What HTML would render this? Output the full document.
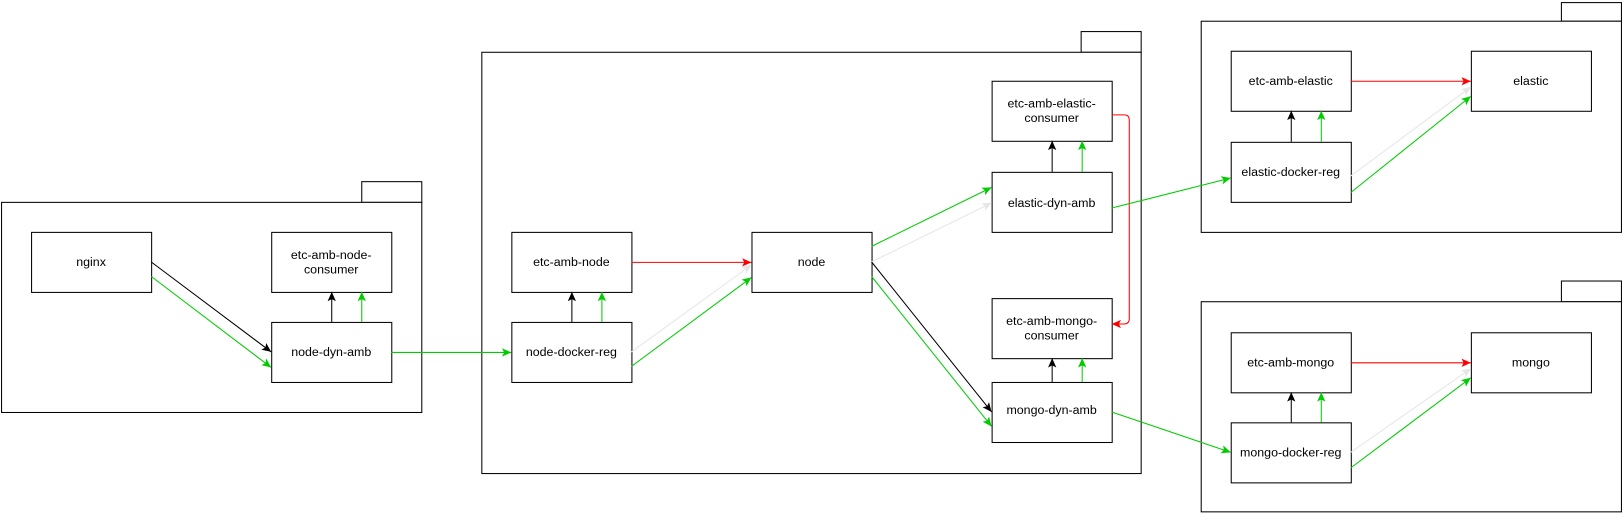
<!DOCTYPE html>
<html><head><meta charset="utf-8"><style>
html,body{margin:0;padding:0;background:#fff;}
svg text{font-family:"Liberation Sans",sans-serif;font-size:12px;fill:#000;text-anchor:middle;}
</style></head><body>
<svg width="1623" height="516" viewBox="0 0 1568 498.5" xmlns="http://www.w3.org/2000/svg">
<defs>
<marker id="ak" markerWidth="10" markerHeight="10" refX="9" refY="5" orient="auto" markerUnits="userSpaceOnUse"><path d="M0,1 L9,5 L0,9 L2,5 Z" fill="#000"/></marker>
<marker id="ag" markerWidth="10" markerHeight="10" refX="9" refY="5" orient="auto" markerUnits="userSpaceOnUse"><path d="M0,1 L9,5 L0,9 L2,5 Z" fill="#00cc00"/></marker>
<marker id="ar" markerWidth="10" markerHeight="10" refX="9" refY="5" orient="auto" markerUnits="userSpaceOnUse"><path d="M0,1 L9,5 L0,9 L2,5 Z" fill="#ff0000"/></marker>
<marker id="ay" markerWidth="10" markerHeight="10" refX="9" refY="5" orient="auto" markerUnits="userSpaceOnUse"><path d="M0,1 L9,5 L0,9 L2,5 Z" fill="#e6e6e6"/></marker>
</defs>
<g fill="#fff" stroke="#000" stroke-width="1">
<rect x="349.5" y="175.5" width="58" height="20"/><rect x="1.5" y="195.5" width="406" height="203"/>
<rect x="1044.5" y="30.5" width="58" height="20"/><rect x="465.5" y="50.5" width="637" height="407"/>
<rect x="1508.5" y="2.5" width="58" height="18"/><rect x="1160.5" y="20.5" width="406" height="204"/>
<rect x="1508.5" y="271.5" width="58" height="20"/><rect x="1160.5" y="291.5" width="406" height="203"/>
</g>
<g fill="#fff" stroke="#000">
<rect x="30.5" y="224.5" width="116" height="58"/>
<rect x="262.5" y="224.5" width="116" height="58"/>
<rect x="262.5" y="311.5" width="116" height="58"/>
<rect x="494.5" y="224.5" width="116" height="58"/>
<rect x="494.5" y="311.5" width="116" height="58"/>
<rect x="726.5" y="224.5" width="116" height="58"/>
<rect x="958.5" y="78.5" width="116" height="58"/>
<rect x="958.5" y="166.5" width="116" height="58"/>
<rect x="958.5" y="288.5" width="116" height="58"/>
<rect x="958.5" y="369.5" width="116" height="58"/>
<rect x="1189.5" y="49.5" width="116" height="58"/>
<rect x="1421.5" y="49.5" width="116" height="58"/>
<rect x="1189.5" y="137.5" width="116" height="58"/>
<rect x="1189.5" y="321.5" width="116" height="58"/>
<rect x="1421.5" y="321.5" width="116" height="58"/>
<rect x="1189.5" y="408.5" width="116" height="58"/>
</g>
<g fill="none" stroke-width="1">
<line x1="146" y1="253" x2="262" y2="340" stroke="#000" marker-end="url(#ak)"/>
<line x1="146" y1="267" x2="262" y2="355" stroke="#00cc00" marker-end="url(#ag)"/>
<line x1="378" y1="340.5" x2="494" y2="340.5" stroke="#00cc00" marker-end="url(#ag)"/>
<line x1="610" y1="253.5" x2="726" y2="253.5" stroke="#ff0000" marker-end="url(#ar)"/>
<line x1="610" y1="340" x2="726" y2="256" stroke="#e6e6e6" marker-end="url(#ay)"/>
<line x1="610" y1="354" x2="726" y2="268" stroke="#00cc00" marker-end="url(#ag)"/>
<line x1="842" y1="238" x2="958" y2="181" stroke="#00cc00" marker-end="url(#ag)"/>
<line x1="842" y1="253" x2="958" y2="196" stroke="#e6e6e6" marker-end="url(#ay)"/>
<line x1="842" y1="253" x2="958" y2="398" stroke="#000" marker-end="url(#ak)"/>
<line x1="842" y1="267" x2="958" y2="412" stroke="#00cc00" marker-end="url(#ag)"/>
<path d="M1074,111 L1086,111 Q1091,111 1091,116 L1091,308 Q1091,313 1086,313 L1074,313" stroke="#ff0000" marker-end="url(#ar)"/>
<line x1="1074" y1="201" x2="1189" y2="172" stroke="#00cc00" marker-end="url(#ag)"/>
<line x1="1074" y1="398" x2="1189" y2="437" stroke="#00cc00" marker-end="url(#ag)"/>
<line x1="1305" y1="78.5" x2="1421" y2="78.5" stroke="#ff0000" marker-end="url(#ar)"/>
<line x1="1305" y1="170" x2="1421" y2="84" stroke="#e6e6e6" marker-end="url(#ay)"/>
<line x1="1305" y1="186" x2="1421" y2="93" stroke="#00cc00" marker-end="url(#ag)"/>
<line x1="1305" y1="350.5" x2="1421" y2="350.5" stroke="#ff0000" marker-end="url(#ar)"/>
<line x1="1305" y1="437" x2="1421" y2="356" stroke="#e6e6e6" marker-end="url(#ay)"/>
<line x1="1305" y1="452" x2="1421" y2="365" stroke="#00cc00" marker-end="url(#ag)"/>
<line x1="320.5" y1="311" x2="320.5" y2="282" stroke="#000" marker-end="url(#ak)"/>
<line x1="349.5" y1="311" x2="349.5" y2="282" stroke="#00cc00" marker-end="url(#ag)"/>
<line x1="552.5" y1="311" x2="552.5" y2="282" stroke="#000" marker-end="url(#ak)"/>
<line x1="581.5" y1="311" x2="581.5" y2="282" stroke="#00cc00" marker-end="url(#ag)"/>
<line x1="1016.5" y1="166" x2="1016.5" y2="136" stroke="#000" marker-end="url(#ak)"/>
<line x1="1045.5" y1="166" x2="1045.5" y2="136" stroke="#00cc00" marker-end="url(#ag)"/>
<line x1="1016.5" y1="369" x2="1016.5" y2="346" stroke="#000" marker-end="url(#ak)"/>
<line x1="1045.5" y1="369" x2="1045.5" y2="346" stroke="#00cc00" marker-end="url(#ag)"/>
<line x1="1247.5" y1="137" x2="1247.5" y2="107" stroke="#000" marker-end="url(#ak)"/>
<line x1="1276.5" y1="137" x2="1276.5" y2="107" stroke="#00cc00" marker-end="url(#ag)"/>
<line x1="1247.5" y1="408" x2="1247.5" y2="379" stroke="#000" marker-end="url(#ak)"/>
<line x1="1276.5" y1="408" x2="1276.5" y2="379" stroke="#00cc00" marker-end="url(#ag)"/>
</g>
<text x="88" y="257">nginx</text>
<text x="320" y="250">etc-amb-node-</text><text x="320" y="264">consumer</text>
<text x="320" y="344">node-dyn-amb</text>
<text x="552" y="257">etc-amb-node</text>
<text x="552" y="344">node-docker-reg</text>
<text x="784" y="257">node</text>
<text x="1016" y="104">etc-amb-elastic-</text><text x="1016" y="118">consumer</text>
<text x="1016" y="200">elastic-dyn-amb</text>
<text x="1016" y="314">etc-amb-mongo-</text><text x="1016" y="328">consumer</text>
<text x="1016" y="400">mongo-dyn-amb</text>
<text x="1247" y="82">etc-amb-elastic</text>
<text x="1479" y="82">elastic</text>
<text x="1247" y="170">elastic-docker-reg</text>
<text x="1247" y="354">etc-amb-mongo</text>
<text x="1479" y="354">mongo</text>
<text x="1247" y="441">mongo-docker-reg</text>
</svg>
</body></html>
